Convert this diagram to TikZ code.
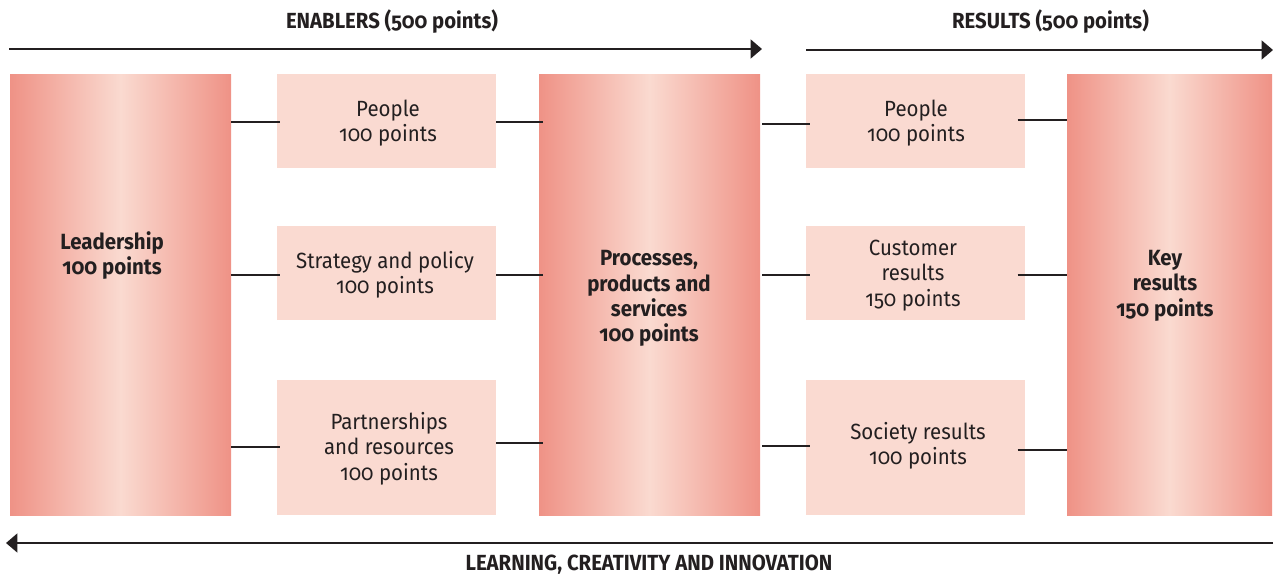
\documentclass[tikz,border=0pt]{standalone}
\usepackage{fontspec}
\setmainfont{Fira Sans}[Numbers=OldStyle, FakeStretch=0.93]
\usetikzlibrary{arrows.meta}
\definecolor{edgec}{HTML}{EF9286}
\definecolor{midc}{HTML}{FADAD0}
\definecolor{boxc}{HTML}{FADAD1}
\definecolor{ink}{HTML}{231F20}
\pgfdeclarehorizontalshading{bigshade}{100bp}{color(0bp)=(edgec); color(25bp)=(edgec); color(50bp)=(midc); color(75bp)=(edgec); color(100bp)=(edgec)}
\tikzset{
  bigbox/.style={inner sep=0pt, outer sep=0pt, minimum width=#1*0.75pt, minimum height=441*0.75pt,
    shading=bigshade, shading angle=0},
  smallbox/.style={fill=boxc, inner sep=0pt, outer sep=0pt, minimum width=219*0.75pt, minimum height=#1*0.75pt},
  smalltext/.style={align=center, font=\fontsize{16.5}{19}\selectfont, text=ink},
  bigtext/.style={align=center, font=\fontsize{16.5}{19}\selectfont\bfseries, text=ink},
  heading/.style={font=\fontsize{16.4}{19}\selectfont\bfseries, text=ink},
  conn/.style={draw=ink, line width=1.6pt},
  flow/.style={draw=ink, line width=1.9pt, -{Triangle[length=8.5pt, width=14pt]}},
}
\begin{document}
\begin{tikzpicture}[x=0.75pt, y=-0.75pt]
\useasboundingbox (0,0) rectangle (1274,575);
% big boxes
\node[bigbox=221] (lead) at (120.5,294.5) {};
\node[bigbox=221] (proc) at (649.5,294.5) {};
\node[bigbox=205] (key) at (1169.5,294.5) {};
\node[bigtext] (leadt) at (112,255.5) {Leadership\\100 points};
\node[bigtext] (proct) at (649,298.5) {Processes,\\products and\\services\\100 points};
\node[bigtext] (keyt) at (1165,285.5) {Key\\results\\150 points};
% left column
\node[smallbox=94] (peo1) at (386.5,121) {};
\node[smallbox=94] (strat) at (386.5,273) {};
\node[smallbox=135] (part) at (386.5,447.5) {};
\node[smalltext] (peo1t) at (388,123) {People\\100 points};
\node[smalltext] (stratt) at (385,274.5) {Strategy and policy\\100 points};
\node[smalltext] (partt) at (389,448.5) {Partnerships\\and resources\\100 points};
% right column
\node[smallbox=94] (peo2) at (915,121) {};
\node[smallbox=94] (cust) at (915,273) {};
\node[smallbox=135] (soc) at (915,447.5) {};
\node[smalltext] (peo2t) at (916,123) {People\\100 points};
\node[smalltext] (custt) at (913,275.5) {Customer\\results\\150 points};
\node[smalltext] (soct) at (918,446) {Society results\\100 points};
% connectors
\draw[conn] (lead.east |- 0,122) -- ([xshift=2.25pt]peo1.west |- 0,122);
\draw[conn] (lead.east |- 0,275) -- ([xshift=2.25pt]strat.west |- 0,275);
\draw[conn] (lead.east |- 0,447) -- ([xshift=2.25pt]part.west |- 0,447);
\draw[conn] (peo1.east |- 0,122) -- ([xshift=3pt]proc.west |- 0,122);
\draw[conn] (strat.east |- 0,275) -- ([xshift=3pt]proc.west |- 0,275);
\draw[conn] (part.east |- 0,443) -- ([xshift=3pt]proc.west |- 0,443);
\draw[conn] ([xshift=1.5pt]proc.east |- 0,124) -- ([xshift=3pt]peo2.west |- 0,124);
\draw[conn] ([xshift=1.5pt]proc.east |- 0,275) -- ([xshift=3pt]cust.west |- 0,275);
\draw[conn] ([xshift=1.5pt]proc.east |- 0,446) -- ([xshift=3pt]soc.west |- 0,446);
\draw[conn] ([xshift=-5.25pt]peo2.east |- 0,120) -- (key.west |- 0,120);
\draw[conn] ([xshift=-5.25pt]cust.east |- 0,275) -- (key.west |- 0,275);
\draw[conn] ([xshift=-5.25pt]soc.east |- 0,450) -- (key.west |- 0,450);
% flow arrows
\coordinate (e1) at (9,49);
\coordinate (e2) at (762,49);
\coordinate (r1) at (806,50);
\coordinate (r2) at (1273,50);
\coordinate (l1) at (1273,543);
\coordinate (l2) at (6,543);
\draw[flow] (e1) -- (e2);
\draw[flow] (r1) -- (r2);
\draw[flow] (l1) -- (l2);
\node[heading] (enab) at (392,22) {ENABLERS (500 points)};
\node[heading] (res) at (1050.5,22) {RESULTS (500 points)};
\node[heading] (learn) at (649,565) {LEARNING, CREATIVITY AND INNOVATION};
\end{tikzpicture}
\end{document}
